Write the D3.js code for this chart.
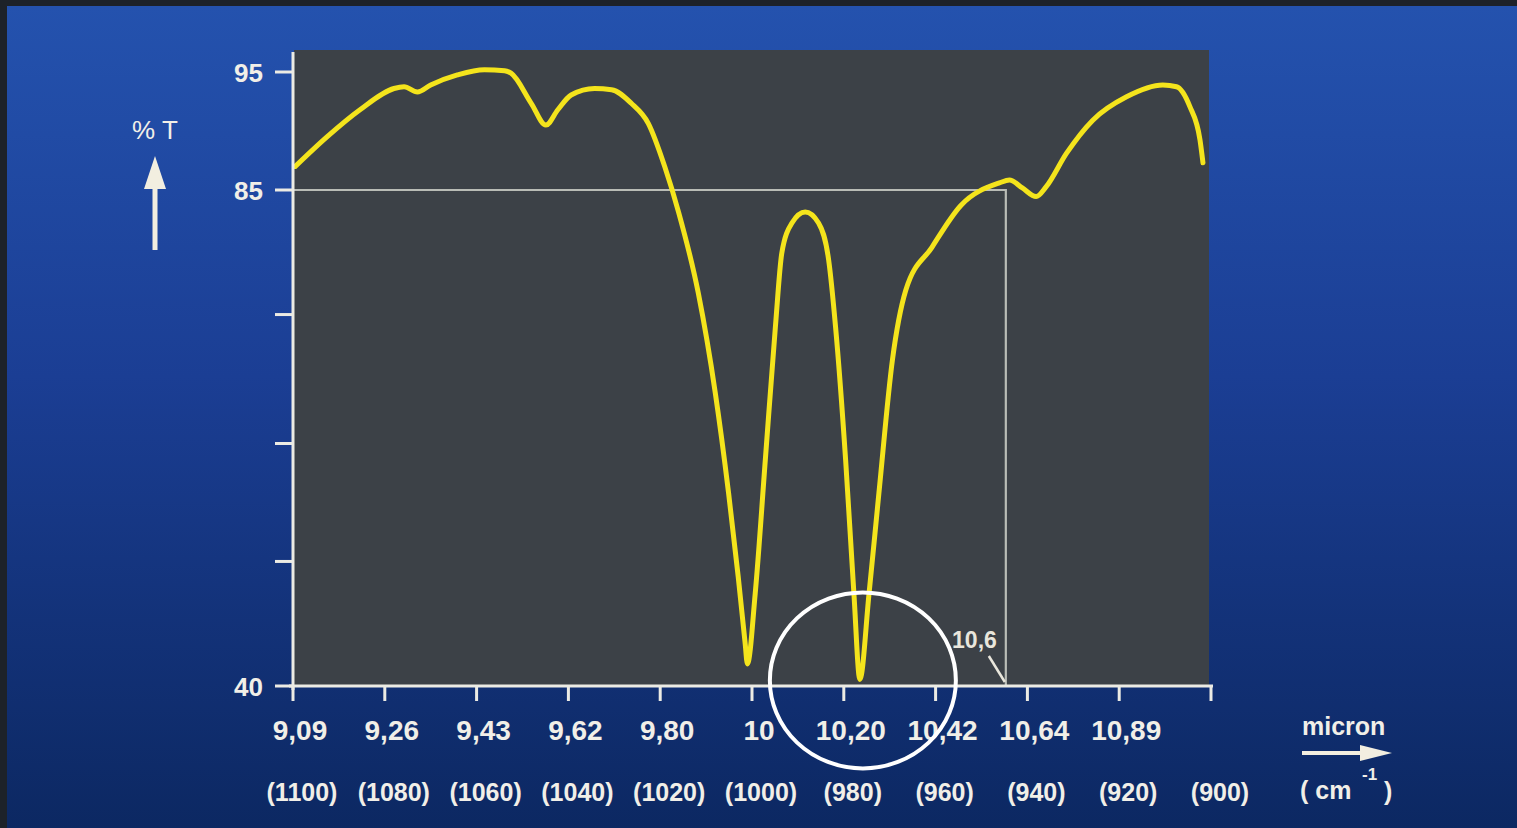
<!DOCTYPE html>
<html><head><meta charset="utf-8">
<script src="https://cdn.jsdelivr.net/npm/d3@7"></script>
<style>html,body{margin:0;padding:0;background:#1d2229;overflow:hidden}</style>
</head><body>
<svg id="chart" width="1517" height="828"></svg>
<script>
// ---- data ----
const wavenumbers = [1099.5,1092.6,1085.4,1078.0,1075.8,1072.9,1070.0,1064.2,1058.3,1053.9,1052.5,1048.1,1044.9,1042.3,1039.4,1034.3,1030.6,1026.3,1022.6,1019.0,1016.0,1011.7,1008.0,1005.1,1003.0,1001.5,1001.0,999.3,997.1,994.9,993.5,991.3,988.4,985.5,983.3,981.8,979.6,977.8,976.5,974.5,972.35,969.4,966.5,960.8,954.5,946.1,943.9,941.1,938.1,935.9,931.5,925.8,918.4,910.5,907.5,904.6,902.4,901.75];
const transmittance = [87.0,89.5,91.8,93.6,93.75,93.3,93.9,94.75,95.2,95.1,94.9,92.35,90.5,91.8,93.05,93.6,93.5,92.35,90.65,86.97,83.0,75.65,66.6,57.5,49.9,43.9,42.0,48.4,60.5,72.6,79.3,82.0,83.0,82.0,78.65,72.6,60.5,48.4,40.6,48.4,57.5,69.6,75.9,79.8,83.6,85.6,85.85,85.17,84.4,85.28,88.1,90.9,92.9,93.9,93.75,92.06,89.24,87.3];
const xTickWavenumbers = [1100,1080,1060,1040,1020,1000,980,960,940,920,900];
const micronLabels = ["9,09","9,26","9,43","9,62","9,80","10","10,20","10,42","10,64","10,89"];
const wavenumberLabels = ["(1100)","(1080)","(1060)","(1040)","(1020)","(1000)","(980)","(960)","(940)","(920)","(900)"];
const yTickValues = [95,85,73.7,62,51.3,40];
const yTickLabels = ["95","85","","","","40"];
const refWavenumber = 944.7, refTransmittance = 85, refLabel = "10,6";
const highlightWavenumber = 976.5, highlightTransmittance = 40.6;

// ---- setup ----
const svg = d3.select("#chart");
const W = 1517, H = 828;
const defs = svg.append("defs");
const grad = defs.append("linearGradient").attr("id","bg").attr("x1",0).attr("y1",0).attr("x2",0).attr("y2",1);
grad.append("stop").attr("offset","0%").attr("stop-color","#2452ae");
grad.append("stop").attr("offset","45%").attr("stop-color","#1b3e94");
grad.append("stop").attr("offset","100%").attr("stop-color","#0c2862");

svg.append("rect").attr("width",W).attr("height",H).attr("fill","#1d2229");
svg.append("rect").attr("x",7).attr("y",6).attr("width",W-7).attr("height",H-6).attr("fill","url(#bg)");

const x = d3.scaleLinear().domain([1100,900]).range([293,1211]);
const y = d3.scaleLinear().domain([40,85,95]).range([686,190,72]);

const white = "#f1efe8";
const font = "'Liberation Sans', Arial, sans-serif";

// plot background
svg.append("rect").attr("x",294).attr("y",50).attr("width",1209-294).attr("height",686-50).attr("fill","#3c4147");

// reference lines
svg.append("path")
  .attr("d", `M${x(1100)},${y(refTransmittance)}H${x(refWavenumber)}V${y(40)}`)
  .attr("fill","none").attr("stroke","#b9bcb6").attr("stroke-width",2.2);

// curve
const pts = wavenumbers.map((w,i)=>[w,transmittance[i]]);
const line = d3.line().x(d=>x(d[0])).y(d=>y(d[1])).curve(d3.curveMonotoneX);
svg.append("path").datum(pts).attr("d",line)
  .attr("fill","none").attr("stroke","#f4e41c").attr("stroke-width",5)
  .attr("stroke-linejoin","round").attr("stroke-linecap","round");

// axes
const axisColor = "#ecebe4";
svg.append("line").attr("x1",293).attr("x2",293).attr("y1",52).attr("y2",690)
  .attr("stroke",axisColor).attr("stroke-width",3);
svg.append("line").attr("x1",289).attr("x2",1213).attr("y1",686).attr("y2",686)
  .attr("stroke",axisColor).attr("stroke-width",3);

// y ticks
yTickValues.forEach((v,i)=>{
  svg.append("line").attr("x1",275).attr("x2",293).attr("y1",y(v)).attr("y2",y(v))
    .attr("stroke",axisColor).attr("stroke-width",3);
  if (yTickLabels[i]) {
    svg.append("text").attr("x",263).attr("y",y(v)+10).attr("text-anchor","end")
      .attr("font-family",font).attr("font-size",26).attr("font-weight","bold")
      .attr("fill",white).text(yTickLabels[i]);
  }
});

// x ticks & labels
xTickWavenumbers.forEach((w,i)=>{
  svg.append("line").attr("x1",x(w)).attr("x2",x(w)).attr("y1",686).attr("y2",701)
    .attr("stroke",axisColor).attr("stroke-width",3);
  if (micronLabels[i]) {
    svg.append("text").attr("x",x(w)+7).attr("y",740).attr("text-anchor","middle")
      .attr("font-family",font).attr("font-size",28).attr("font-weight","bold")
      .attr("fill",white).text(micronLabels[i]);
  }
  svg.append("text").attr("x",x(w)+9).attr("y",801).attr("text-anchor","middle")
    .attr("font-family",font).attr("font-size",25).attr("font-weight","bold")
    .attr("fill",white).text(wavenumberLabels[i]);
});

// y axis title with arrow
svg.append("text").attr("x",155).attr("y",139).attr("text-anchor","middle")
  .attr("font-family",font).attr("font-size",26).attr("fill",white).text("% T");
svg.append("line").attr("x1",155).attr("x2",155).attr("y1",250).attr("y2",185)
  .attr("stroke","#f2eee0").attr("stroke-width",5);
svg.append("path").attr("d","M155,156 L166,189 L144,189 Z").attr("fill","#f2eee0");

// x axis title with arrow
svg.append("text").attr("x",1302).attr("y",735)
  .attr("font-family",font).attr("font-size",25).attr("font-weight","bold")
  .attr("fill",white).text("micron");
svg.append("line").attr("x1",1302).attr("x2",1365).attr("y1",753).attr("y2",753)
  .attr("stroke","#f2eee0").attr("stroke-width",4);
svg.append("path").attr("d","M1392,753 L1360,745 L1360,761 Z").attr("fill","#f2eee0");
svg.append("text").attr("x",1300).attr("y",799)
  .attr("font-family",font).attr("font-size",25).attr("font-weight","bold")
  .attr("fill",white).text("( cm");
svg.append("text").attr("x",1362).attr("y",780)
  .attr("font-family",font).attr("font-size",17).attr("font-weight","bold")
  .attr("fill",white).text("-1");
svg.append("text").attr("x",1384).attr("y",800)
  .attr("font-family",font).attr("font-size",25).attr("font-weight","bold")
  .attr("fill",white).text(")");

// reference annotation
const xr = x(refWavenumber);
svg.append("text").attr("x",xr-9).attr("y",648).attr("text-anchor","end")
  .attr("font-family",font).attr("font-size",23).attr("font-weight","bold")
  .attr("fill","#e9e6dc").text(refLabel);
svg.append("line").attr("x1",xr-17).attr("y1",656).attr("x2",xr-1).attr("y2",682)
  .attr("stroke","#e9e6dc").attr("stroke-width",2.5);

// highlight circle
svg.append("ellipse").attr("cx",x(highlightWavenumber)+3).attr("cy",y(highlightTransmittance)+1)
  .attr("rx",93).attr("ry",88).attr("fill","none").attr("stroke","#ffffff").attr("stroke-width",4);
</script>
</body></html>
